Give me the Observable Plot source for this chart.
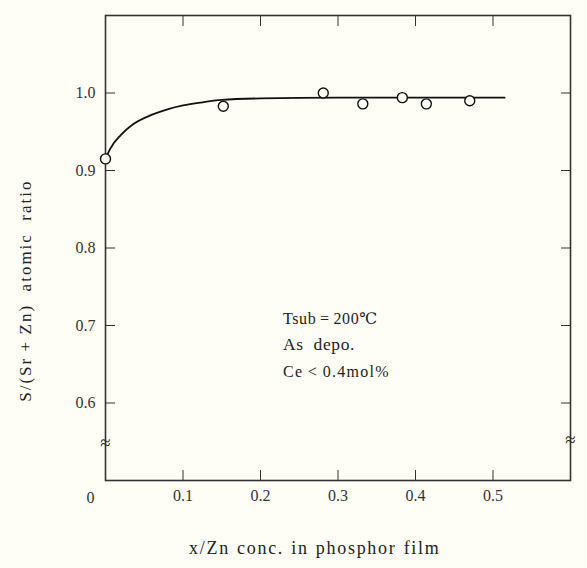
<!DOCTYPE html>
<html>
<head>
<meta charset="utf-8">
<script src="https://cdn.jsdelivr.net/npm/d3@7"></script>
<script src="https://cdn.jsdelivr.net/npm/@observablehq/plot@0.6"></script>
<style>
  html, body { margin: 0; padding: 0; background: #fefef7; }
  #chart svg { display: block; background: #fefef7; }
  .xlab text { letter-spacing: 1.7px; word-spacing: 1px; }
  .ylab text { letter-spacing: 2px; word-spacing: 0px; }
  .note text { letter-spacing: 0.6px; }
  .note2 text { letter-spacing: 1.3px; }
</style>
</head>
<body>
<div id="chart"></div>
<script>
// Measured points: x/Zn concentration vs S/(Sr+Zn) atomic ratio
const pointX = [0.0, 0.152, 0.281, 0.332, 0.383, 0.414, 0.470];
const pointY = [0.915, 0.983, 1.000, 0.986, 0.994, 0.986, 0.990];

// Fitted curve drawn through the data
const curveX = [0.0, 0.006, 0.02, 0.036, 0.06, 0.08, 0.10, 0.125, 0.15, 0.20, 0.30, 0.515];
const curveY = [0.915, 0.928, 0.946, 0.960, 0.972, 0.979, 0.984, 0.988, 0.991, 0.993, 0.994, 0.994];

const xTicks = [0.1, 0.2, 0.3, 0.4, 0.5];
const yTicks = [0.6, 0.7, 0.8, 0.9, 1.0];
const breakY = [0.548];

const xLabel = "x/Zn conc. in phosphor film";
const yLabel = "S/(Sr\u2009+\u2009Zn)  atomic  ratio";
const noteLines = ["Tsub\u2009=\u2009200\u2103", "As  depo.", "Ce\u2009<\u20090.4mol%"];

const points = pointX.map((x, i) => ({x, y: pointY[i]}));
const curve = curveX.map((x, i) => ({x, y: curveY[i]}));

const serif = "'Liberation Serif', 'DejaVu Serif', serif";

const chart = Plot.plot({
  width: 587,
  height: 568,
  marginLeft: 105,
  marginRight: 17,
  marginTop: 15,
  marginBottom: 88,
  style: {fontFamily: serif, background: "#fefef7", color: "#222"},
  x: {domain: [0, 0.6]},
  y: {domain: [0.5, 1.1]},
  marks: [
    Plot.frame({stroke: "#333", strokeWidth: 1.6}),
    // inward ticks on all four sides
    Plot.axisY({anchor: "left", ticks: yTicks, tickSize: -10, tickFormat: () => "", label: null, stroke: "#333"}),
    Plot.axisY({anchor: "right", ticks: yTicks, tickSize: -10, tickFormat: () => "", label: null, stroke: "#333"}),
    Plot.axisX({anchor: "bottom", ticks: xTicks, tickSize: -10, tickFormat: () => "", label: null, stroke: "#333"}),
    Plot.axisX({anchor: "top", ticks: xTicks, tickSize: -10, tickFormat: () => "", label: null, stroke: "#333"}),
    // tick labels
    Plot.axisY({anchor: "left", ticks: yTicks, tickSize: 0, tickPadding: 10, tickFormat: d3.format(".1f"), label: null, fontSize: 16, fill: "#333"}),
    Plot.axisX({anchor: "bottom", ticks: xTicks, tickSize: 0, tickPadding: 9, tickFormat: d3.format(".1f"), label: null, fontSize: 16, fill: "#333"}),
    Plot.text([0], {x: d => d, y: 0.5, text: d => String(d), dx: -15, dy: 17, fontSize: 16, fill: "#333"}),
    // axis breaks
    Plot.text(breakY, {x: 0, y: d => d, text: () => "\u2248", fontSize: 19, fill: "#222"}),
    Plot.text(breakY, {x: 0.6, y: d => d + 0.004, text: () => "\u2248", fontSize: 19, fill: "#222"}),
    // curve and points
    Plot.line(curve, {x: "x", y: "y", curve: "monotone-x", stroke: "#111", strokeWidth: 1.8}),
    Plot.dot(points, {x: "x", y: "y", r: 5, stroke: "#111", strokeWidth: 1.4, fill: "#fefef7"}),
    // annotations
    Plot.text([noteLines[0]], {x: 0.229, y: 0.709, text: d => d, textAnchor: "start", fontSize: 16, fill: "#222", className: "note"}),
    Plot.text([noteLines[1]], {x: 0.229, y: 0.675, text: d => d, textAnchor: "start", fontSize: 17.5, fill: "#222", className: "note"}),
    Plot.text([noteLines[2]], {x: 0.229, y: 0.640, text: d => d, textAnchor: "start", fontSize: 16, fill: "#222", className: "note2"}),
    // axis titles
    Plot.text([xLabel], {x: 0.270, y: 0.412, text: d => d, fontSize: 18, fill: "#222", className: "xlab"}),
    Plot.text([yLabel], {x: -0.103, y: 0.745, rotate: -90, text: d => d, fontSize: 17, fill: "#222", className: "ylab"})
  ]
});

document.getElementById("chart").append(chart);
</script>
</body>
</html>
